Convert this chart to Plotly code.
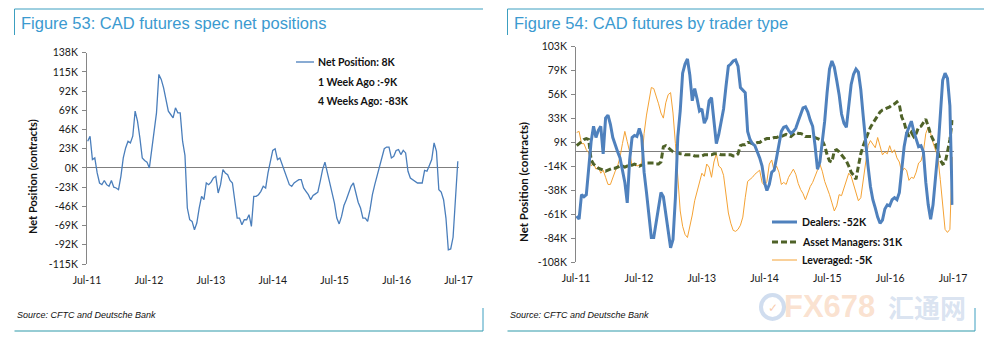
import numpy as np
import pandas as pd
import plotly.graph_objects as go

W, H = 984, 343

# ---- Figure 53: CFTC speculative net position in CAD futures (thousand contracts)
net_dates = list(pd.date_range("2011-07-05", "2017-06-13", freq="14D")) + [
    pd.Timestamp("2017-06-20"), pd.Timestamp("2017-06-27")]
net_k = [32, 38, 10, 12, -6, -18, -20, -15, -20, -22,
         -15, -23, -24, -26, -10, 12, 24, 32, 30, 38,
         68, 56, 36, 12, 9, 7, 0, 20, 46, 66,
         112, 106, 96, 82, 68, 64, 60, 72, 66, 66,
         32, 15, -48, -62, -64, -74, -66, -48, -34, -38,
         -18, -20, -17, -12, -10, -30, -20, -2, -6, -8,
         -15, -18, -42, -60, -60, -68, -62, -62, -56, -70,
         -34, -34, -32, -28, -22, -24, -6, 10, 21, 23,
         10, 12, 4, -2, -12, -20, -22, -18, -16, -14,
         -14, -24, -28, -32, -38, -33, -31, -29, -16, -2,
         7, -6, -16, -28, -42, -60, -67, -58, -45, -38,
         -30, -22, -18, -30, -41, -48, -60, -60, -64, -50,
         -32, -20, -10, 2, 12, 23, 25, 25, 12, 14,
         21, 22, 16, 21, 18, -4, -12, -14, -16, -18,
         -18, -18, -3, -4, 3, 10, 30, 20, -26, -29,
         -38, -60, -98, -97, -83, -35, -9, 8]
net_ticks_k = [138, 115, 92, 69, 46, 23, 0, -23, -46, -69, -92, -115]

# ---- Figure 54: positions by trader type (thousand contracts)
trader_dates = pd.date_range("2011-07-05", "2017-06-27", freq="14D")
dealers_k = [-63, -66, -42, -44, -42, -14, 10, 25, 14, 21,
             25, -2, 33, 36, 27, 14, 6, 0, -6, -17,
             -30, -50, -8, 14, 16, 15, 23, 15, -20, -40,
             -63, -84, -84, -70, -54, -40, -44, -62, -80, -94,
             -86, -45, 15, 40, 77, 86, 91, 75, 50, 62,
             52, 40, 42, 28, 33, 50, 53, 28, 8, 17,
             30, 42, 64, 84, 86, 89, 90, 84, 63, 60,
             58, 20, 12, 8, 6, 0, -6, -14, -30, -38,
             -32, -20, -18, -6, 8, 20, 24, 25, 21, 18,
             20, 23, 30, 37, 43, 44, 39, 31, 25, 6,
             -17, -10, 8, 30, 58, 81, 89, 83, 70, 56,
             37, 28, 24, 43, 66, 76, 81, 78, 61, 35,
             9, -14, -34, -47, -55, -64, -70, -67, -56, -52,
             -53, -47, -45, -47, -40, -15, 5, 18, 25, 30,
             20, 13, 5, 6, 0, -30, -52, -66, -52, -26,
             0, 35, 70, 77, 72, 45, -52]
asset_mgr_k = [6, 8, 10, 12, 13, 12, -8, -12, -14, -16,
               -17, -18, -19, -18, -17, -16, -16, -15, -14, -14,
               -15, -14, -14, -13, -12, -13, -14, -13, -12, -11,
               -11, -11, -11, -12, -12, -10, 5, 6, 4, 2,
               0, -1, -1, -2, -2, -3, -3, -3, -3, -4,
               -4, -4, -4, -3, -3, -3, -3, -2, -2, -2,
               -3, -3, -3, -3, -3, -4, -4, -2, 6, 7,
               7, 9, 9, 8, 8, 9, 9, 11, 12, 13,
               13, 13, 14, 14, 15, 15, 16, 17, 16, 15,
               17, 19, 18, 18, 17, 15, 15, 15, 15, 14,
               13, 12, 11, 6, -3, -9, -10, 1, 2, 0,
               -3, -6, -9, -14, -20, -23, -27, -14, -2, 6,
               12, 17, 24, 28, 32, 35, 39, 41, 42, 43,
               44, 46, 47, 49, 46, 34, 29, 20, 15, 19,
               15, 18, 24, 25, 28, 32, 25, 17, 12, 8,
               0, -8, -12, -11, 0, 12, 31]
leveraged_k = [19, 20, 8, 8, 2, -1, -14, -11, -17, -15,
               -21, -18, -25, -32, -32, -25, -19, -14, -5, 8,
               20, 10, 0, -14, -11, -14, -13, -11, 18, 36,
               51, 63, 62, 55, 47, 38, 33, 48, 56, 58,
               38, 8, -28, -58, -73, -81, -84, -74, -62, -48,
               -38, -28, -21, -24, -12, -15, -25, -10, -2, -14,
               -16, -23, -40, -60, -70, -77, -78, -76, -72, -64,
               -45, -29, -27, -25, -22, -20, -18, -30, -33, -29,
               -12, -8, -19, -14, -20, -32, -30, -32, -25, -21,
               -17, -22, -31, -37, -41, -47, -41, -34, -30, -23,
               -18, -12, -19, -29, -35, -42, -50, -58, -53, -42,
               -43, -35, -27, -21, -24, -32, -40, -48, -45, -27,
               -11, 6, 11, 7, 4, 14, 5, -3, 0, -2,
               6, -1, 2, -6, -10, -20, -16, -18, -28, -25,
               -26, -20, -11, -9, 0, 18, 24, 18, 9, 2,
               -5, -27, -55, -76, -79, -76, -5]
trader_ticks_k = [103, 79, 56, 33, 9, -14, -38, -61, -84, -108]

year_ticks = pd.date_range("2011-07-01", "2017-07-01", freq="12MS")
x_labels = [d.strftime("%b-%y") for d in year_ticks]


def px(x):
    return x / W


def py(y):
    return 1 - y / H


AXIS_FONT = dict(family="Lato, Carlito, Open Sans, sans-serif", size=10.5, color="#1a1a1a")
TITLE_BLUE = "#3b9ad0"
FRAME = "#3c9fc0"
AXIS_GREY = "#868686"

fig = go.Figure()

fig.add_trace(go.Scatter(x=net_dates, y=net_k, mode="lines",
                         line=dict(color="#4a7ebb", width=1.3),
                         xaxis="x", yaxis="y", showlegend=False))
fig.add_trace(go.Scatter(x=trader_dates, y=leveraged_k, mode="lines",
                         line=dict(color="#f4a234", width=1),
                         xaxis="x2", yaxis="y2", showlegend=False))
fig.add_trace(go.Scatter(x=trader_dates, y=asset_mgr_k, mode="lines",
                         line=dict(color="#4f6228", width=3, dash="6px,3px"),
                         xaxis="x2", yaxis="y2", showlegend=False))
fig.add_trace(go.Scatter(x=trader_dates, y=dealers_k, mode="lines",
                         line=dict(color="#4f81bd", width=3),
                         xaxis="x2", yaxis="y2", showlegend=False))

xcommon = dict(type="date", tickvals=list(year_ticks), ticktext=x_labels,
               showgrid=False, zeroline=False, showline=False, automargin=False,
               ticks="outside", ticklen=6, tickcolor="rgba(0,0,0,0)",
               tickfont=AXIS_FONT, fixedrange=True)
ycommon = dict(showgrid=False, zeroline=True, zerolinecolor="#7f7f7f", zerolinewidth=1,
               showline=True, linecolor=AXIS_GREY, linewidth=1, automargin=False,
               ticks="outside", ticklen=4, tickcolor=AXIS_GREY,
               tickfont=AXIS_FONT, ticklabelstandoff=2, fixedrange=True)

net_lo, net_hi = min(net_ticks_k), max(net_ticks_k)
tr_lo, tr_hi = min(trader_ticks_k), max(trader_ticks_k)
tr_tickvals = list(np.linspace(tr_hi, tr_lo, len(trader_ticks_k)))

fig.update_layout(
    width=W, height=H,
    margin=dict(l=0, r=0, t=0, b=0, autoexpand=False),
    paper_bgcolor="white", plot_bgcolor="white",
    xaxis=dict(xcommon, domain=[px(87), px(459)], anchor="y",
               range=["2011-07-01", "2017-07-04"]),
    yaxis=dict(ycommon, domain=[py(264), py(52.7)], anchor="x",
               range=[net_lo, net_hi], tickvals=net_ticks_k,
               ticktext=[f"{v}K" for v in net_ticks_k]),
    xaxis2=dict(xcommon, domain=[px(576), px(953.5)], anchor="y2",
                range=["2011-07-01", "2017-07-04"]),
    yaxis2=dict(ycommon, domain=[py(262), py(46.7)], anchor="x2",
                range=[tr_lo, tr_hi], tickvals=tr_tickvals,
                ticktext=[f"{v}K" for v in trader_ticks_k]),
)

shapes = []
annotations = []


def text(x, y, s, size=10.5, bold=False, color="#111", family="Lato, sans-serif",
         anchor="left", angle=0, italic=False, opacity=1.0):
    s2 = f"<b>{s}</b>" if bold else s
    if italic:
        s2 = f"<i>{s2}</i>"
    annotations.append(dict(x=px(x), y=py(y), xref="paper", yref="paper", text=s2,
                            showarrow=False, xanchor=anchor, yanchor="middle",
                            textangle=angle, opacity=opacity,
                            font=dict(size=size, color=color, family=family)))


def seg(x0, y0, x1, y1, color, width=1, dash=None):
    line = dict(color=color, width=width)
    if dash:
        line["dash"] = dash
    shapes.append(dict(type="line", xref="paper", yref="paper",
                       x0=px(x0), y0=py(y0), x1=px(x1), y1=py(y1), line=line))


# panel frames
for (left, right, bottom_right) in [(14.5, 483, 483), (507.5, 984, 975)]:
    seg(left, 9, right, 9, FRAME, 1)
    seg(left, 9, left, 35, FRAME, 1)
    seg(left, 331, bottom_right, 331, "#2f9aa9", 1.2)
    seg(bottom_right, 308, bottom_right, 331, FRAME, 1)

# titles
TITLE_FONT = "Liberation Sans, Arial, sans-serif"
text(19, 23, "Figure 53: CAD futures spec net positions", size=16.5, color=TITLE_BLUE, family=TITLE_FONT)
text(512, 23, "Figure 54: CAD futures by trader type", size=16.5, color=TITLE_BLUE, family=TITLE_FONT)

# y-axis titles
text(32, 177, "Net Position (contracts)", size=11, bold=True, anchor="center", angle=-90)
text(523, 182, "Net Position (contracts)", size=11.5, bold=True, anchor="center", angle=-90)

# sources
text(15, 315, "Source: CFTC and Deutsche Bank", size=9, italic=True, color="#111", family=TITLE_FONT)
text(508, 315, "Source: CFTC and Deutsche Bank", size=9, italic=True, color="#111", family=TITLE_FONT)

# legend of Figure 53 (values taken from the series)
net_s = pd.Series(net_k, index=pd.DatetimeIndex(net_dates))
last = net_s.index[-1]
latest = net_s.iloc[-1]
week_ago = net_s[last - pd.Timedelta(days=7)]
month_ago = net_s[last - pd.Timedelta(days=28)]
seg(296, 62, 314, 62, "#4a7ebb", 1.3)
text(316, 62, f"Net Position: {latest}K", bold=True)
text(316, 82, f"1 Week Ago :{week_ago}K", bold=True)
text(316, 101, f"4 Weeks Ago: {month_ago}K", bold=True)

# legend of Figure 54
seg(772, 222, 797, 222, "#4f81bd", 3)
text(800, 222, f"Dealers: {dealers_k[-1]}K", bold=True)
seg(772, 242, 797, 242, "#4f6228", 3, dash="6px,3px")
text(800, 242, f"Asset Managers: {asset_mgr_k[-1]}K", bold=True)
seg(772, 260, 797, 260, "#f4a234", 1)
text(800, 260, f"Leveraged: {leveraged_k[-1]}K", bold=True)

# site watermark
shapes.append(dict(type="circle", xref="paper", yref="paper",
                   x0=px(761), y0=py(319), x1=px(784), y1=py(295),
                   line=dict(color="rgba(150,180,220,0.45)", width=4)))
text(772.5, 307, "✓", size=12, color="rgba(245,170,120,0.6)", anchor="center")
text(877, 306, "FX678", size=31, bold=True, color="rgba(245,190,150,0.45)",
     family="Liberation Sans Narrow, Liberation Sans, sans-serif", anchor="right")
text(886, 306, "汇通网", size=26, bold=True, color="rgba(160,185,220,0.4)",
     family="Noto Sans CJK SC, sans-serif")

fig.update_layout(shapes=shapes, annotations=annotations)
fig.write_html("out.html")
